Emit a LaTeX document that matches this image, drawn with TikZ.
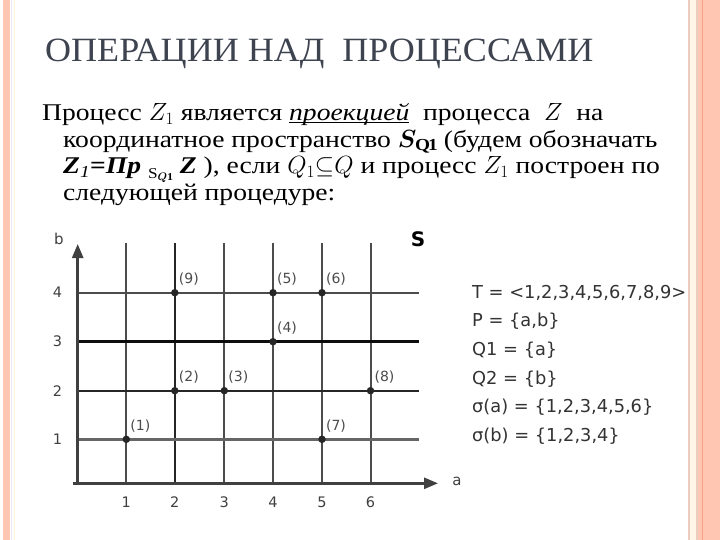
\documentclass[tikz,border=0pt]{standalone}
\usepackage{fontspec}
\usepackage{bm}
\setmainfont{Liberation Serif}[FakeStretch=1.15]
\newfontfamily\titlef{Liberation Serif}[FakeStretch=1.06]
\newfontfamily\vsans{DejaVu Sans}
\usetikzlibrary{arrows.meta}
\definecolor{salm}{RGB}{255,198,178}
\definecolor{salmdeep}{RGB}{246,160,135}
\definecolor{tanl}{RGB}{236,204,190}
\definecolor{cream}{RGB}{255,246,232}
\definecolor{lav}{RGB}{236,232,246}
\definecolor{lyel}{RGB}{250,246,222}
\definecolor{titlecol}{RGB}{62,67,80}
\begin{document}
\begin{tikzpicture}[x=1pt,y=-1pt,
  every node/.style={inner sep=0pt},
  body/.style={anchor=base west, font=\fontsize{24}{27}\selectfont, text=black},
  tick/.style={font=\vsans\fontsize{14.5}{14.5}\selectfont, text=black!75},
  plab/.style={font=\vsans\fontsize{14}{14}\selectfont, text=black!70},
  dot/.style={circle, fill=black!85, minimum size=7.5pt, inner sep=0pt},
  info/.style={anchor=base west, font=\vsans\fontsize{17.8}{17.8}\selectfont, text=black!80},
  grid1/.style={draw=black!70, line width=2pt},
  grid2/.style={draw=black!85, line width=2.4pt},
  axis/.style={draw=black!75, line width=2.5pt},
  tip/.style={-{Triangle[length=14pt,width=11pt]}},
]
\useasboundingbox (0,0) rectangle (720,540);
\fill[white] (0,0) rectangle (720,540);
% slide borders
\fill[salm] (2.5,0) rectangle (9.5,540);
\fill[lav] (11,0) rectangle (12.2,540);
\fill[lyel] (14,0) rectangle (15.2,540);
\fill[tanl] (688,0) rectangle (690,540);
\fill[cream] (690,0) rectangle (696,540);
\fill[tanl] (696,0) rectangle (698,540);
\fill[salm] (698,0) rectangle (720,540);
\fill[salmdeep] (701.5,0) rectangle (703,540);

% title
\node[anchor=base west, font=\titlef\fontsize{34}{34}\selectfont, text=titlecol] (title) at (45,62) {ОПЕРАЦИИ НАД\ \ ПРОЦЕССАМИ};

% body text
\node[body] (l1) at (42,120.5) {Процесс $Z_1$ является \underline{\smash{\textit{проекцией}}}\ \ процесса\ \ $Z$\ \ на};
\node[body] (l2) at (63,147.2) {координатное пространство $\bm{S}_{\mathbf{Q1}}$ (будем обозначать};
\node[body] (l3) at (63,173.9) {\textbf{\textit{Z}}\textsubscript{\textit{1}}\textbf{=\textit{Пр}} \raisebox{-0.18em}{\fontsize{15}{15}\selectfont S$_{\bm{Q}\mathbf{1}}$} \textbf{\textit{Z}} ), если $Q_1{\subseteq}Q$ и процесс $Z_1$ построен по};
\node[body] (l4) at (63,200.6) {следующей процедуре:};

% grid coordinates
\coordinate (v1t) at (126.3,243); \coordinate (v1b) at (126.3,483.3);
\coordinate (v2t) at (174.8,243); \coordinate (v2b) at (174.8,483.3);
\coordinate (v3t) at (224.3,243); \coordinate (v3b) at (224.3,483.3);
\coordinate (v4t) at (273,243);   \coordinate (v4b) at (273,483.3);
\coordinate (v5t) at (322,243);   \coordinate (v5b) at (322,483.3);
\coordinate (v6t) at (370.5,243); \coordinate (v6b) at (370.5,483.3);
\coordinate (h4l) at (77.7,292.7); \coordinate (h4r) at (419,292.7);
\coordinate (h3l) at (77.7,341.7); \coordinate (h3r) at (419,341.7);
\coordinate (h2l) at (77.7,390.7); \coordinate (h2r) at (419,390.7);
\coordinate (h1l) at (77.7,439.3); \coordinate (h1r) at (419,439.3);

\draw[grid1] (v1t) -- (v1b);
\draw[grid2] (v2t) -- (v2b);
\draw[grid1] (v3t) -- (v3b);
\draw[grid2, draw=black!70] (v4t) -- (v4b);
\draw[grid1] (v5t) -- (v5b);
\draw[grid1] (v6t) -- (v6b);
\draw[draw=black!70, line width=1.6pt] (h4l) -- (h4r);
\draw[draw=black!95, line width=2.5pt] (h3l) -- (h3r);
\draw[grid2] (h2l) -- (h2r);
\draw[draw=black!60, line width=3pt] (h1l) -- (h1r);

% axes
\coordinate (o) at (77.7,483.3);
\coordinate (xs) at (72.5,483.3);
\coordinate (xe) at (438,483.3);
\coordinate (ye) at (77.7,244);
\draw[axis, tip] (o) -- (ye);
\draw[axis, tip] (xs) -- (xe);

\node[font=\vsans\fontsize{15}{15}\selectfont, text=black!75] (lb) at (59,239) {b};
\node[font=\vsans\fontsize{15}{15}\selectfont, text=black!75] (la) at (457,481) {a};
\node[font=\vsans\bfseries\fontsize{20}{20}\selectfont, text=black] (lS) at (418,239) {S};

% tick labels
\foreach \i/\x in {1/126.3,2/174.8,3/224.3,4/273,5/322,6/370.5}
  \node[tick] (tx\i) at (\x,502) {\i};
\foreach \j/\y in {1/439.3,2/390.7,3/341.7,4/292.7}
  \node[tick] (ty\j) at (57.5,\y) {\j};

% points
\node[dot] (p1) at (126.3,439.3) {};
\node[dot] (p2) at (174.8,390.7) {};
\node[dot] (p3) at (224.3,390.7) {};
\node[dot] (p4) at (273,341.7) {};
\node[dot] (p5) at (273,292.7) {};
\node[dot] (p6) at (322,292.7) {};
\node[dot] (p7) at (322,439.3) {};
\node[dot] (p8) at (370.5,390.7) {};
\node[dot] (p9) at (174.8,292.7) {};
\foreach \k in {1,...,9}
  \path (p\k) ++(14,-13.5) node[plab] (pl\k) {(\k)};

% info text
\node[info] (i1) at (472,298.3) {T = <1,2,3,4,5,6,7,8,9>};
\node[info] (i2) at (472,326.9) {P = \{a,b\}};
\node[info] (i3) at (472,355.5) {Q1 = \{a\}};
\node[info] (i4) at (472,384.1) {Q2 = \{b\}};
\node[info] (i5) at (472,412.7) {σ(a) = \{1,2,3,4,5,6\}};
\node[info] (i6) at (472,441.3) {σ(b) = \{1,2,3,4\}};
\end{tikzpicture}
\end{document}
